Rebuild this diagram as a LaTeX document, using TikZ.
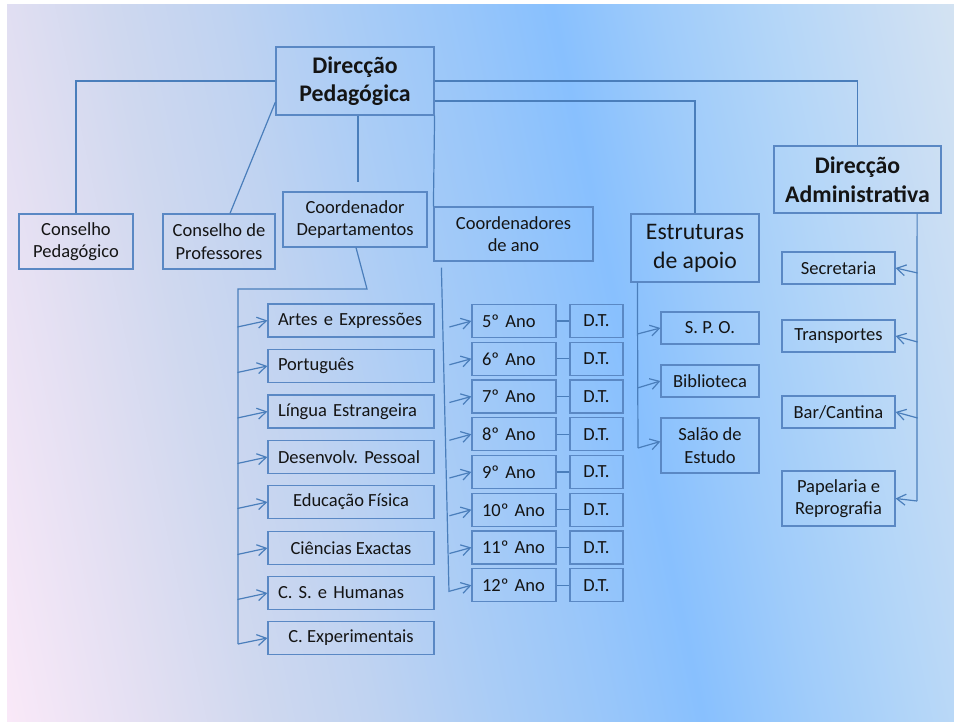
\documentclass[tikz,border=0pt]{standalone}
\usepackage{fontspec}
\setmainfont{Carlito}
\usetikzlibrary{arrows.meta}
\definecolor{lc}{HTML}{4A7EBB}
\definecolor{bc}{HTML}{5A88C4}
\definecolor{txt}{HTML}{141414}
\definecolor{sa}{HTML}{FAE9F8}
\definecolor{sb}{HTML}{E2DFF2}
\definecolor{sc}{HTML}{CFD8EF}
\definecolor{sd}{HTML}{C0D3F1}
\definecolor{se}{HTML}{A9CCF6}
\definecolor{sf}{HTML}{98C6FA}
\definecolor{sg}{HTML}{88C0FE}
\definecolor{sh}{HTML}{A0CCFA}
\definecolor{si}{HTML}{B4D6F8}
\definecolor{sj}{HTML}{C8DDF4}
\definecolor{sk}{HTML}{D4E3F2}
\pgfdeclarehorizontalshading{bgshade}{100bp}{color(0bp)=(sa); color(20bp)=(sa); color(28bp)=(sb); color(34bp)=(sc); color(40bp)=(sd); color(47bp)=(se); color(53bp)=(sf); color(58bp)=(sg); color(64bp)=(sh); color(70bp)=(si); color(76bp)=(sj); color(80bp)=(sk); color(100bp)=(sk)}
\newcommand{\fsN}{\fontsize{18.5}{22.5}\selectfont\frenchspacing}
\newcommand{\fsB}{\fontsize{23.8}{28.5}\selectfont\bfseries}
\newcommand{\fsL}{\fontsize{23.7}{29}\selectfont}
\begin{document}
\begin{tikzpicture}[x=1pt,y=-1pt,
  box/.style={draw=bc,line width=1.2pt,inner sep=0pt,align=center,font=\fsN,text=txt},
  lbox/.style={box,align=left,inner xsep=10pt},
  dbox/.style={box,minimum width=166pt,minimum height=33pt},
  ldbox/.style={lbox,text width=146pt,minimum height=33pt},
  sbox/.style={box,minimum width=98pt},
  rbox/.style={box,minimum width=113pt},
  conn/.style={draw=lc,line width=1.2pt},
  arr/.style={conn,-{Straight Barb[length=9pt,width=11pt]}}]
\useasboundingbox (0,0) rectangle (954,722);
\fill[white] (0,0) rectangle (954,722);
\shade[shading=bgshade,shading angle=12] (7,5) rectangle (954,722);

% main boxes
\node[box,font=\fsB,minimum width=158pt,minimum height=68pt] (dp) at (355,81) {Direcção\\Pedagógica};
\node[box,minimum width=114pt,minimum height=55pt] (cp) at (76,241.5) {Conselho\\Pedagógico};
\node[box,minimum width=112pt,minimum height=55pt] (cprof) at (219,241.5) {Conselho de\\Professores};
\node[box,minimum width=144pt,minimum height=55pt] (cdep) at (355,219.5) {Coordenador\\Departamentos};
\node[box,minimum width=159pt,minimum height=54pt] (cano) at (513.5,234) {Coordenadores\\de ano};
\node[box,font=\fsL,minimum width=128pt,minimum height=68pt] (est) at (695,248) {Estruturas\\de apoio};
\node[box,font=\fsB,minimum width=167pt,minimum height=67pt] (da) at (857.5,179.5) {Direcção\\Administrativa};

% top connectors
\draw[conn] (dp.east) -| (da.north);
\draw[conn] ([yshift=-20pt]dp.east) -| (est.north);
\draw[conn] (dp.west) -| (cp.north);
\draw[conn] ([yshift=-21pt]dp.west) -- ([xshift=11pt]cprof.north);
\draw[conn] ([xshift=3pt]dp.south) -- ([xshift=3pt,yshift=9pt]cdep.north);
\draw[conn] (dp.south east) -- (cano.north west);

% departments
\node[ldbox] (d1) at (351,320.5) {Artes e Expressões};
\node[ldbox] (d2) at (351,366) {Português};
\node[ldbox] (d3) at (351,411.5) {Língua Estrangeira};
\node[ldbox] (d4) at (351,457) {Desenvolv. Pessoal};
\node[dbox] (d5) at (351,502) {Educação Física};
\node[dbox] (d6) at (351,548) {Ciências Exactas};
\node[ldbox] (d7) at (351,593) {C. S. e Humanas};
\node[dbox] (d8) at (351,638) {C. Experimentais};
\coordinate (lk) at (367,289);
\coordinate (lc) at (238,289);
\coordinate (lb) at (238,644);
\draw[conn] ([xshift=1pt]cdep.south) -- (lk) -- (lc) -- (lb);
\foreach \i in {1,...,7}{
  \draw[arr] ([xshift=-30pt,yshift=-6.5pt]d\i.west) -- (d\i.west);
}
\draw[arr] (lb) -- (d8.west);

% years
\coordinate (cab) at (449,592);
\draw[conn] ([xshift=8pt,yshift=-6pt]cano.south west) -- (cab);
\foreach \i/\t in {1/5,2/6,3/7,4/8,5/9,6/10,7/11,8/12}{
  \pgfmathsetmacro{\yy}{321+37.75*(\i-1)}
  \node[lbox,text width=64pt,minimum height=33pt] (a\i) at (514,\yy) {\t º Ano};
  \node[box,minimum width=53pt,minimum height=33pt] (t\i) at (596.5,\yy) {D.T.};
  \draw[conn] (a\i) -- (t\i);
  \draw[arr] ([xshift=-22pt,yshift=-6pt]a\i.west) -- (a\i.west);
}

% support structures
\node[sbox,minimum height=32pt] (spo) at (710,328) {S. P. O.};
\node[sbox,minimum height=32pt] (bib) at (710,381) {Biblioteca};
\node[sbox,minimum height=55pt] (sal) at (710,445.5) {Salão de\\Estudo};
\coordinate (eb) at (638,448);
\draw[conn] ([xshift=7pt]est.south west) -- (eb);
\draw[arr] ([xshift=-23pt,yshift=-6pt]spo.west) -- (spo.west);
\draw[arr] ([xshift=-23pt,yshift=-7pt]bib.west) -- (bib.west);
\draw[arr] (eb) -- ([yshift=4pt]sal.west);

% administration
\node[rbox,minimum height=32pt] (sec) at (838.5,268) {Secretaria};
\node[rbox,minimum height=32pt] (tra) at (838.5,336) {Transportes};
\node[rbox,minimum height=32pt] (bar) at (838.5,412) {Bar/Cantina};
\node[rbox,minimum height=55pt] (pap) at (838.5,498.5) {Papelaria e\\Reprografia};
\coordinate (ab) at (917,501);
\draw[conn] ([xshift=-24.5pt]da.south east) -- (ab);
\draw[arr] ([xshift=22pt,yshift=-5pt]sec.east) -- (sec.east);
\draw[arr] ([xshift=22pt,yshift=-6pt]tra.east) -- (tra.east);
\draw[arr] ([xshift=22pt,yshift=-6pt]bar.east) -- (bar.east);
\draw[arr] (ab) -- (pap.east);
\end{tikzpicture}
\end{document}
